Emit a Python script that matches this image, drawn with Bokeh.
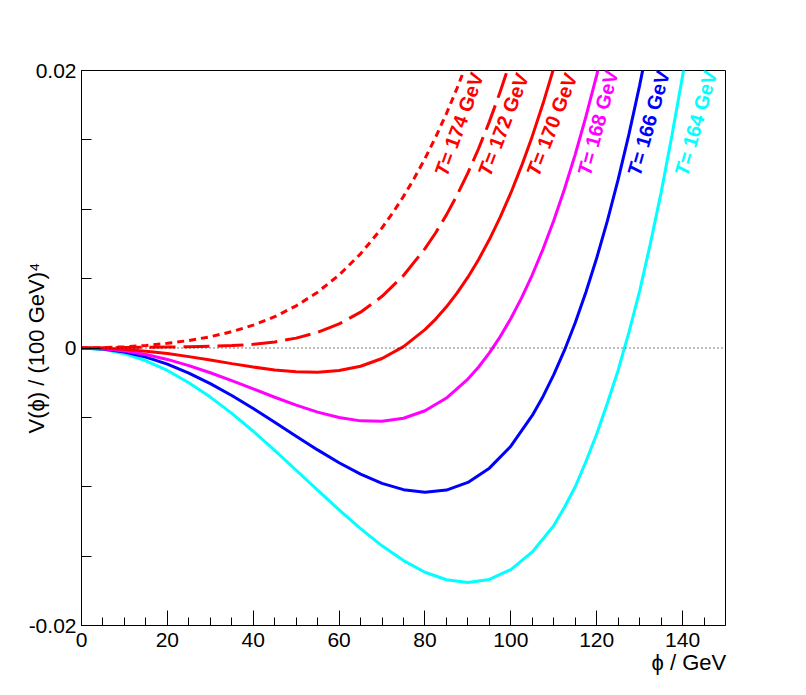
import math
from bokeh.plotting import figure
from bokeh.models import Range1d, FixedTicker, Span, ColumnDataSource
from bokeh.core.properties import value
from bokeh.embed import file_html
from bokeh.resources import INLINE

# ---------------- data ----------------
# phi in GeV, V in (100 GeV)^4
phi_164 = [0, 5, 10, 15, 20, 25, 30, 35, 40, 45, 50, 55, 60, 65, 70, 75, 80, 85, 90, 95,
           100, 105, 110, 112.5, 115, 117.5, 120, 122.5, 125, 127.5, 130, 132.5, 135, 137.5, 140, 142]
v_164 = [0, -0.00010, -0.00041, -0.00092, -0.00162, -0.00250, -0.00354, -0.00471, -0.00600,
         -0.00738, -0.00881, -0.01025, -0.01167, -0.01302, -0.01426, -0.01532, -0.01616, -0.01670,
         -0.01690, -0.01668, -0.01597, -0.01470, -0.01280, -0.01148, -0.01000, -0.00818, -0.00620,
         -0.00397, -0.00160, 0.00112, 0.00410, 0.00752, 0.01120, 0.01528, 0.01960, 0.02330]

phi_166 = [0, 5, 10, 15, 20, 25, 30, 35, 40, 45, 50, 55, 60, 65, 70, 75, 80, 85, 90, 95, 100,
           105, 107.5, 110, 112.5, 115, 117.5, 120, 122.5, 125, 127.5, 130, 132.5]
v_166 = [0, -0.0000725, -0.000292, -0.000659, -0.001167, -0.001808, -0.002568, -0.003428,
         -0.004366, -0.005353, -0.006358, -0.007344, -0.00827, -0.00909, -0.009754, -0.01021,
         -0.01039, -0.01024, -0.009686, -0.008658, -0.007077, -0.004861, -0.003489, -0.001924,
         -0.000157, 0.001825, 0.004033, 0.006484, 0.009178, 0.01215, 0.015396, 0.01893, 0.02276]

phi_168 = [0, 5, 10, 15, 20, 25, 30, 35, 40, 45, 50, 55, 60, 65, 70, 75, 80, 85, 90, 92.5, 95,
           97.5, 100, 102.5, 105, 107.5, 110, 112.5, 115, 117.5, 120, 122.5]
v_168 = [0, -0.0000518, -0.000208, -0.000468, -0.000824, -0.001268, -0.001783, -0.002352,
         -0.00295, -0.003549, -0.004118, -0.004619, -0.005012, -0.005251, -0.005286, -0.005064,
         -0.004525, -0.003606, -0.00224, -0.001368, -0.000356, 0.000804, 0.002123, 0.00361,
         0.005278, 0.007131, 0.009192, 0.011463, 0.013956, 0.016686, 0.01967, 0.0229]

phi_170 = [0, 5, 10, 15, 20, 25, 30, 35, 40, 45, 50, 55, 60, 65, 70, 75, 80, 82.5, 85, 87.5,
           90, 92.5, 95, 97.5, 100, 102.5, 105, 107.5, 110, 112.5]
v_170 = [0, -0.0000239, -0.000099, -0.000227, -0.000404, -0.000622, -0.000868, -0.001126,
         -0.001371, -0.001579, -0.001715, -0.001745, -0.001627, -0.001314, -0.000757, 0.000101,
         0.00132, 0.002085, 0.002965, 0.003969, 0.005105, 0.006384, 0.007816, 0.009409,
         0.011176, 0.013125, 0.015269, 0.017617, 0.020184, 0.02298]

phi_172 = [0, 5, 10, 15, 20, 25, 30, 35, 40, 45, 50, 55, 60, 65, 70, 75, 80, 82.5, 85, 87.5,
           90, 92.5, 95, 97.5, 100, 102.5]
v_172 = [0, 0.0000099, 0.0000304, 0.0000519, 0.0000711, 0.0000907, 0.000119, 0.000172,
         0.000269, 0.000439, 0.000712, 0.001129, 0.001735, 0.002581, 0.003724, 0.005226,
         0.007159, 0.008309, 0.009596, 0.011028, 0.01262, 0.014378, 0.016316, 0.018446,
         0.020781, 0.023331]

phi_174 = [0, 5, 10, 15, 20, 25, 30, 35, 40, 45, 50, 55, 60, 65, 70, 72.5, 75, 77.5, 80,
           82.5, 85, 87.5, 90, 92.5]
v_174 = [0, 0.0000213, 0.0000832, 0.000186, 0.000335, 0.000539, 0.000813, 0.001174, 0.001646,
         0.002256, 0.003037, 0.004024, 0.005259, 0.006787, 0.008658, 0.009739, 0.010927,
         0.012229, 0.013654, 0.015207, 0.0169, 0.018739, 0.020735, 0.022894]

temperatures = [174, 172, 170, 168, 166, 164]

x_major_ticks = [0, 20, 40, 60, 80, 100, 120, 140]
x_tick_labels = ["0", "20", "40", "60", "80", "100", "120", "140"]
y_major_ticks = [-0.02, 0.0, 0.02]
y_tick_labels = ["-0.02", "0", "0.02"]

x_title = "\u03d5 / GeV"
y_title = "V(\u03d5) / (100 GeV)\u2074"

# ---------------- styles / layout ----------------
FONT = "Liberation Sans"
curve_styles = [
    (phi_164, v_164, "#00ffff", "solid"),
    (phi_166, v_166, "#0000ff", "solid"),
    (phi_168, v_168, "#ff00ff", "solid"),
    (phi_170, v_170, "#ff0000", "solid"),
    (phi_172, v_172, "#ff0000", "26 8"),
    (phi_174, v_174, "#ff0000", "7 5"),
]
label_colors = ["#ff0000", "#ff0000", "#ff0000", "#ff00ff", "#0000ff", "#00ffff"]
label_phi = [83.6, 93.7, 105.0, 117.0, 128.6, 139.6]
label_v = [0.01245] * 6
label_angle_deg = [70, 69, 69, 75, 74, 74]
LABEL_SIZE = 20

p = figure(frame_width=644, frame_height=555,
           x_range=Range1d(0, 150), y_range=Range1d(-0.02, 0.02),
           output_backend="svg", toolbar_location=None,
           min_border_left=81, min_border_right=80,
           min_border_top=70, min_border_bottom=62)
p.background_fill_color = "white"
p.border_fill_color = "white"
p.outline_line_color = "black"
p.outline_line_width = 1
p.xgrid.visible = False
p.ygrid.visible = False

# zero reference line
p.add_layout(Span(location=0, dimension="width", line_color="black",
                  line_width=1, line_dash="1 3"))

for xs, ys, col, dash in curve_styles:
    p.line(xs, ys, line_color=col, line_width=3, line_dash=dash)

# curve labels: italic "T" followed by "= xxx GeV"
angles = [math.radians(a) for a in label_angle_deg]
t_w = 0.611 * LABEL_SIZE
src_t = ColumnDataSource(dict(x=label_phi, y=label_v, text=["T"] * 6,
                              angle=angles, color=label_colors))
src_r = ColumnDataSource(dict(x=label_phi, y=label_v,
                              text=["= %d GeV" % t for t in temperatures],
                              angle=angles, color=label_colors,
                              xo=[t_w * math.cos(a) for a in angles],
                              yo=[-t_w * math.sin(a) for a in angles]))
p.text(x="x", y="y", text="text", angle="angle", text_color="color", source=src_t,
       text_font=value(FONT), text_font_size="%dpx" % LABEL_SIZE,
       text_font_style="bold italic", text_align="left", text_baseline="middle")
p.text(x="x", y="y", text="text", angle="angle", text_color="color", source=src_r,
       x_offset="xo", y_offset="yo",
       text_font=value(FONT), text_font_size="%dpx" % LABEL_SIZE,
       text_font_style="bold", text_align="left", text_baseline="middle")

# axes
minor_x = [v for v in range(5, 150, 5) if v % 20 != 0]
p.xaxis.ticker = FixedTicker(ticks=x_major_ticks, minor_ticks=minor_x)
p.xaxis.major_label_overrides = {t: l for t, l in zip(x_major_ticks, x_tick_labels)}
p.xaxis.major_tick_in = 15
p.xaxis.major_tick_out = 0
p.xaxis.minor_tick_in = 8
p.xaxis.minor_tick_out = 0
p.xaxis.major_label_standoff = 7

minor_y = [-0.015, -0.01, -0.005, 0.005, 0.01, 0.015]
p.yaxis.ticker = FixedTicker(ticks=y_major_ticks, minor_ticks=minor_y)
p.yaxis.major_label_overrides = {t: l for t, l in zip(y_major_ticks, y_tick_labels)}
p.yaxis.major_tick_in = 19
p.yaxis.major_tick_out = 0
p.yaxis.minor_tick_in = 10
p.yaxis.minor_tick_out = 0
p.yaxis.major_label_standoff = 5

for ax in (p.xaxis, p.yaxis):
    ax.axis_line_color = "black"
    ax.major_tick_line_color = "black"
    ax.minor_tick_line_color = "black"
    ax.major_label_text_font = FONT
    ax.major_label_text_font_size = "21px"
    ax.major_label_text_color = "black"
    ax.axis_label_text_font = FONT
    ax.axis_label_text_font_size = "22px"
    ax.axis_label_text_font_style = "normal"
    ax.axis_label_text_color = "black"

# axis titles: x flush with the end of the axis, y centred.
# The x title is centred on the axis end by Bokeh, so trailing no-break
# spaces of about the title's own width push its visible end onto the axis end.
p.xaxis.axis_label = x_title + "\u00a0" * 12
p.yaxis.axis_label = y_title
p.xaxis.axis_label_standoff = 0
p.yaxis.axis_label_standoff = -23
try:
    p.xaxis.axis_label_align = "end"
except Exception:
    pass

open("out.html", "w").write(file_html(p, INLINE))
